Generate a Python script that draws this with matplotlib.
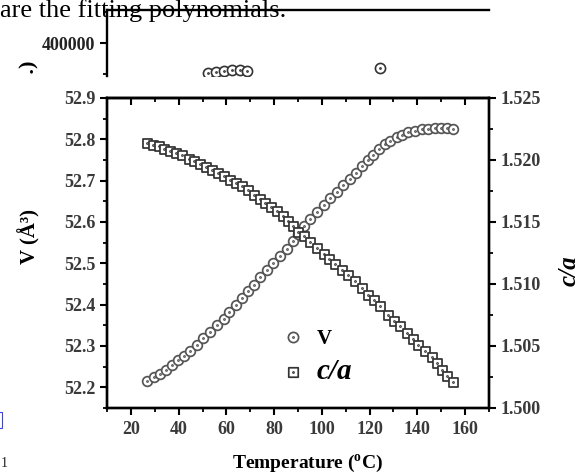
import matplotlib
matplotlib.use('Agg')
import matplotlib.pyplot as plt
from matplotlib.path import Path
from matplotlib.ticker import MultipleLocator, FormatStrFormatter, NullLocator
from matplotlib.transforms import Bbox
from matplotlib.patches import Rectangle

plt.rcParams['font.family'] = ['Liberation Serif', 'DejaVu Serif']
plt.rcParams['mathtext.fontset'] = 'custom'
plt.rcParams['mathtext.rm'] = 'Liberation Serif:bold'
plt.rcParams['mathtext.it'] = 'Liberation Serif:bold:italic'
plt.rcParams['mathtext.bf'] = 'Liberation Serif:bold'

# ---------------- data ----------------
T_V = [26.7, 29.5, 32.0, 34.7, 37.2, 39.7, 42.4, 44.9, 47.7, 50.4,
       53.2, 56.0, 58.8, 61.3, 64.1, 66.5, 68.9, 71.4, 74.2, 76.9,
       79.7, 82.5, 85.3, 87.8, 90.2, 92.6, 95.1, 97.9, 100.7, 103.4,
       106.2, 109.0, 111.8, 114.3, 116.7, 119.5, 121.6, 124.1, 126.5, 128.6,
       131.3, 133.4, 136.2, 139.0, 141.8, 144.6, 147.4, 149.8, 152.3, 155.0]
V = [52.216, 52.224, 52.232, 52.243, 52.255, 52.265, 52.277, 52.289, 52.303, 52.319,
     52.334, 52.350, 52.366, 52.382, 52.398, 52.416, 52.432, 52.448, 52.466, 52.485,
     52.501, 52.517, 52.535, 52.555, 52.571, 52.590, 52.608, 52.624, 52.640, 52.658,
     52.673, 52.689, 52.705, 52.719, 52.735, 52.751, 52.763, 52.777, 52.789, 52.797,
     52.805, 52.811, 52.818, 52.821, 52.824, 52.826, 52.827, 52.827, 52.827, 52.826]

T_ca = [26.7, 29.2, 31.6, 34.0, 36.5, 39.0, 41.4, 44.2, 46.5, 49.1,
        51.6, 53.9, 56.7, 59.1, 61.6, 64.1, 66.5, 68.9, 71.4, 73.9,
        76.2, 78.6, 81.1, 83.6, 86.0, 88.1, 90.2, 92.6, 95.1, 97.9,
        100.7, 103.0, 105.5, 108.3, 111.1, 113.9, 116.7, 119.5, 121.9, 124.4,
        127.9, 130.2, 132.7, 135.5, 138.0, 140.4, 143.2, 146.0, 148.1, 150.2,
        152.6, 155.0]
ca = [1.52137, 1.52124, 1.52110, 1.52091, 1.52075, 1.52056, 1.52038, 1.52011, 1.51989, 1.51968,
      1.51944, 1.51922, 1.51895, 1.51868, 1.51841, 1.51815, 1.51788, 1.51755, 1.51720, 1.51688,
      1.51653, 1.51618, 1.51586, 1.51546, 1.51505, 1.51465, 1.51419, 1.51384, 1.51339, 1.51290,
      1.51242, 1.51204, 1.51161, 1.51116, 1.51070, 1.51022, 1.50968, 1.50914, 1.50874, 1.50820,
      1.50753, 1.50704, 1.50659, 1.50605, 1.50559, 1.50505, 1.50457, 1.50409, 1.50363, 1.50309,
      1.50255, 1.50210]

# partially visible upper panel
T_top = [52.5, 55.5, 59.0, 62.5, 65.5, 68.5, 124.3]
I_top = [351600, 353200, 354800, 356400, 356400, 355600, 359700]

x_label = r"Temperature ($^{\mathrm{o}}$C)"
yl_label = "V (Å³)"
yr_label = "c/a"
legend_labels = ["V", "c/a"]
top_text = "are the fitting polynomials."

# ---------------- figure ----------------
W, H = 586, 475
fig = plt.figure(figsize=(W / 100, H / 100), dpi=100)


def fx(px):
    return px / W


def fy(py):
    return 1 - py / H


L, R, T, B = 107, 489, 98, 408
ax = fig.add_axes([fx(L), fy(B), fx(R) - fx(L), fy(T) - fy(B)])
ax2 = ax.twinx()

circ = Path.make_compound_path(Path.unit_circle(), Path.circle((0, 0), 0.11))
sq_outer = Path([(-1, -1), (1, -1), (1, 1), (-1, 1), (-1, -1)],
                [Path.MOVETO, Path.LINETO, Path.LINETO, Path.LINETO, Path.CLOSEPOLY])
sq = Path.make_compound_path(sq_outer, Path.circle((0, 0), 0.11))

l1, = ax.plot(T_V, V, linestyle='none', marker=circ, ms=7.0, mfc='white',
              mec='#555555', mew=1.25, zorder=3)
l2, = ax2.plot(T_ca, ca, linestyle='none', marker=sq, ms=6.5, mfc='white',
               mec='#333333', mew=1.25, zorder=3)

ax.set_xlim(10, 170)
ax.set_ylim(52.15, 52.9)
ax2.set_ylim(1.500, 1.525)

ax.xaxis.set_major_locator(MultipleLocator(20))
ax.xaxis.set_minor_locator(MultipleLocator(10))
ax.xaxis.set_major_formatter(FormatStrFormatter('%d'))
ax.yaxis.set_major_locator(MultipleLocator(0.1))
ax.yaxis.set_minor_locator(MultipleLocator(0.05))
ax.yaxis.set_major_formatter(FormatStrFormatter('%.1f'))
ax2.yaxis.set_major_locator(MultipleLocator(0.005))
ax2.yaxis.set_minor_locator(MultipleLocator(0.0025))
ax2.yaxis.set_major_formatter(FormatStrFormatter('%.3f'))

tick_col = '#3a3a3a'
for a in (ax, ax2):
    for s in a.spines.values():
        s.set_linewidth(1.7)
    a.tick_params(which='major', direction='out', length=5, width=1.5,
                  labelsize=13, labelcolor=tick_col)
    a.tick_params(which='minor', direction='out', length=3, width=1.3)
for lab in ax.get_xticklabels() + ax.get_yticklabels() + ax2.get_yticklabels():
    lab.set_fontweight('bold')
ax.tick_params(axis='x', which='major', pad=4)

sec = ax.secondary_xaxis('top')
sec.xaxis.set_major_locator(MultipleLocator(20))
sec.xaxis.set_minor_locator(MultipleLocator(10))
sec.tick_params(which='major', direction='in', length=5, width=1.5, labeltop=False)
sec.tick_params(which='minor', direction='in', length=3, width=1.3)
sec.spines['top'].set_linewidth(1.7)

# labels
fig.text(fx(308), fy(463), x_label, ha='center', va='center', fontsize=14,
         fontweight='bold')
fig.text(fx(29), fy(237), yl_label, ha='center', va='center', rotation=90,
         fontsize=15, fontweight='bold')
fig.text(fx(569), fy(271), yr_label, ha='center', va='center', rotation=90,
         fontsize=18, fontweight='bold', fontstyle='italic')

leg = ax2.legend([l1, l2], legend_labels, loc='center left',
                 bbox_to_anchor=(fx(283), fy(357)), bbox_transform=fig.transFigure,
                 frameon=False, handlelength=1.0, handletextpad=0.6,
                 borderpad=0, borderaxespad=0, labelspacing=0.45, numpoints=1,
                 markerscale=1.05, prop={'size': 15, 'weight': 'bold'})
leg.get_texts()[1].set_fontstyle('italic')
leg.get_texts()[1].set_fontsize(21)

# ---------------- partially visible upper panel ----------------
axt = fig.add_axes([fx(L), fy(76), fx(R) - fx(L), fy(10) - fy(76)])
axt.set_xlim(10, 170)
axt.set_ylim(346774, 453226)
axt.plot(T_top, I_top, linestyle='none', marker=circ, ms=7.3, mfc='white',
         mec='#333333', mew=1.2)
for side in ('right', 'bottom'):
    axt.spines[side].set_visible(False)
for side in ('left', 'top'):
    axt.spines[side].set_linewidth(1.7)
axt.xaxis.set_major_locator(NullLocator())
axt.yaxis.set_major_locator(MultipleLocator(100000))
axt.yaxis.set_minor_locator(MultipleLocator(50000))
axt.yaxis.set_major_formatter(FormatStrFormatter('%d'))
axt.tick_params(which='major', direction='out', length=5, width=1.5,
                labelsize=13, labelcolor='#222222')
axt.tick_params(which='minor', direction='out', length=3, width=1.3)
for lab in axt.get_yticklabels():
    lab.set_fontweight('bold')
axt.patch.set_visible(False)

ylab_top = fig.text(fx(29), fy(60), "Intensity (a.u.)", rotation=90,
                    ha='center', va='top', fontsize=16, fontweight='bold')
ylab_top.set_clip_box(Bbox([[0, H - 75], [W, H]]))
ylab_top.set_clip_on(True)

# page fragments around the figure
fig.text(0, fy(17), top_text, ha='left', va='baseline', fontsize=19)
fig.patches.append(Rectangle((-10, H - 428), 12, 16, transform=None,
                             fill=False, edgecolor='#3344ff', linewidth=0.8))
fig.text(fx(1), fy(470), "1", ha='left', va='bottom', fontsize=10, color='#222222')

fig.savefig('out.png', dpi=100)
